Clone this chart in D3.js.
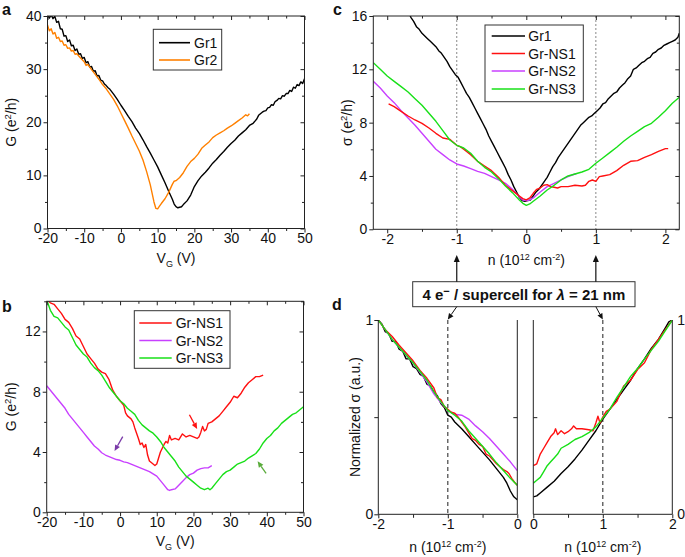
<!DOCTYPE html>
<html><head><meta charset="utf-8">
<script src="https://cdn.jsdelivr.net/npm/d3@7"></script>
<style>body{margin:0;background:#fff} svg text{font-family:Arial,"Liberation Sans",sans-serif}</style>
</head><body><svg id="fig" width="685" height="557"></svg>
<script>
// ---------------- DATA ----------------
// Panel a: G (e^2/h) vs V_G (V)
const aGr1 = [[-20,40.3],[-19.5,39.6],[-19,40.2],[-18.5,39.5],[-18,39.9],[-17.5,38.8],[-17,39.0],[-16.5,37.6],[-16,37.5],[-15.5,36.2],[-15,36.3],[-14.5,35.2],[-14,35.5],[-13.5,34.4],[-13,34.5],[-12.5,33.5],[-12,33.8],[-11.5,32.8],[-11,32.9],[-10.5,32.0],[-10,32.2],[-9.5,31.2],[-9,31.4],[-8.5,30.4],[-8,30.5],[-7.5,29.6],[-7,29.7],[-6.5,28.7],[-6,28.8],[-5.5,27.9],[-5,27.8],[-4.5,27.2],[-4,26.9],[-3.5,26.5],[-3,26.2],[-2,25.3],[-1,24.3],[0,23.2],[1,22.2],[2,21.1],[3,20.1],[4,18.9],[5,17.9],[6,16.7],[7,15.4],[8,14.2],[9,12.9],[10,11.6],[11,10.1],[12,8.6],[13,7.0],[14,5.5],[14.5,4.6],[15,4.1],[15.5,3.9],[16,4.0],[16.5,4.1],[17,4.5],[18,5.2],[19,6.3],[20,7.9],[21,9.0],[22,9.9],[23,10.6],[24,11.4],[25,12.3],[26,13.0],[27,13.8],[28,14.5],[29,15.3],[30,16.0],[31,16.6],[32,17.4],[33,18.0],[34,18.6],[35,19.4],[36,19.8],[37,20.6],[37.5,21.3],[38,21.6],[38.5,21.9],[39,22.1],[39.5,22.2],[40,22.7],[40.5,22.8],[41,23.3],[41.5,23.2],[42,23.9],[42.5,24.1],[43,24.5],[43.5,24.4],[44,25.0],[44.5,24.9],[45,25.4],[45.5,25.4],[46,26.0],[46.5,25.8],[47,26.6],[47.5,26.4],[48,27.1],[48.5,26.9],[49,27.6],[49.5,27.3],[50,28.2]];
const aGr2 = [[-20,38.3],[-19.5,37.2],[-19,37.6],[-18.5,36.6],[-18,36.9],[-17.5,35.8],[-17,36.0],[-16.5,35.2],[-16,35.3],[-15.5,34.5],[-15,34.6],[-14.5,33.9],[-14,34.0],[-13.5,33.4],[-13,33.5],[-12.5,32.8],[-12,32.9],[-11,32.1],[-10,31.4],[-9.5,30.7],[-9,30.9],[-8,29.9],[-7,29.0],[-6,28.1],[-5,27.1],[-4,26.3],[-3,25.3],[-2,24.3],[-1,23.1],[0,21.7],[1,20.3],[2,18.9],[3,17.4],[4,16.0],[5,14.6],[6,12.9],[7,10.7],[8,8.2],[8.5,6.6],[9,5.0],[9.5,3.8],[10,3.7],[10.5,4.2],[11,4.7],[12,5.6],[13,6.8],[14,8.3],[14.5,8.9],[15,9.0],[16,9.6],[17,10.5],[18,11.7],[19,12.6],[20,13.2],[21,14.0],[22,15.1],[23,15.7],[24,16.3],[25,17.1],[26,17.6],[27,18.0],[28,18.4],[29,18.9],[30,19.3],[31,19.8],[32,20.3],[33,20.8],[34,21.4],[34.5,21.2],[35,21.6]];

// Panel b
const bNS1 = [[-20,14.1],[-19,13.9],[-18,13.8],[-17,13.5],[-16,13.2],[-15,12.8],[-14,12.6],[-13,12.2],[-12,11.7],[-11,11.5],[-10,11.0],[-9,10.5],[-8,10.2],[-7,9.9],[-6,9.5],[-5,9.3],[-4,9.2],[-3,8.8],[-2,8.1],[-1,7.7],[0,7.4],[1,7.1],[1.5,6.6],[2,6.4],[3,6.2],[3.5,6.0],[4,5.6],[5,4.9],[5.5,4.5],[6,4.6],[6.5,4.3],[7,4.5],[7.5,3.8],[8,3.4],[9,3.2],[9.5,3.1],[10,3.2],[10.5,3.6],[11,4.0],[12,4.5],[12.5,4.7],[13,4.6],[13.5,5.1],[14,4.8],[15,4.9],[16,4.8],[17,5.2],[18,5.0],[19,5.1],[20,5.0],[21,4.9],[21.5,5.0],[22,5.3],[22.5,5.7],[23,5.4],[23.5,5.5],[24,5.9],[25,6.0],[26,6.2],[27,6.4],[28,6.7],[29,7.0],[30,7.3],[31,7.7],[32,7.6],[33,7.9],[34,8.3],[35,8.6],[36,8.8],[37,9.0],[38,9.0],[39,9.1]];
const bNS2 = [[-20,8.4],[-19,8.1],[-18,7.8],[-17,7.5],[-16,7.2],[-15,6.9],[-14,6.5],[-13,6.2],[-12,5.9],[-11,5.6],[-10,5.3],[-9,5.0],[-8,4.7],[-7,4.4],[-6,4.2],[-5,3.95],[-4,3.8],[-3,3.7],[-2,3.6],[-1,3.5],[0,3.45],[1,3.35],[2,3.3],[3,3.2],[4,3.1],[5,3.0],[6,2.9],[7,2.8],[8,2.7],[9,2.55],[10,2.4],[11,2.1],[12,1.8],[13,1.5],[13.5,1.45],[14,1.5],[15,1.55],[16,1.8],[17,2.05],[18,2.3],[19,2.5],[20,2.6],[21,2.8],[22,2.9],[23,2.95],[24,2.95],[25,3.1]];
const bNS3 = [[-20,14.1],[-19,13.4],[-18,13.0],[-17,12.9],[-16,12.6],[-15,12.3],[-14,12.1],[-13,11.6],[-12,11.1],[-11,10.8],[-10,10.5],[-9,10.3],[-8,9.9],[-7,9.6],[-6,9.4],[-5,9.1],[-4,8.7],[-3,8.3],[-2,8.0],[-1,7.7],[0,7.4],[1,7.2],[2,6.9],[3,6.7],[4,6.5],[5,6.1],[6,5.8],[7,5.6],[8,5.4],[9,5.25],[10,5.0],[11,4.7],[12,4.3],[13,4.0],[14,3.7],[15,3.4],[16,3.0],[17,2.7],[18,2.4],[19,2.2],[20,2.0],[21,1.8],[22,1.6],[23,1.5],[24,1.6],[24.5,1.5],[25,1.6],[26,1.9],[27,2.2],[28,2.5],[29,2.7],[30,2.8],[31,3.0],[32,3.2],[33,3.3],[34,3.4],[35,3.6],[36,3.75],[37,3.9],[38,4.2],[39,4.6],[40,4.9],[41,5.1],[42,5.4],[43,5.6],[44,5.9],[45,6.1],[46,6.3],[47,6.5],[48,6.6],[49,6.8],[50,7.0]];
// arrows in panel b (data coordinates: [V_G, G])
const bArrowFrom = [[18.9,6.47],[0.73,5.02],[39.8,2.59]];
const bArrowTo   = [[21.0,5.53],[-1.5,4.07],[37.5,3.38]];

// Panel c: sigma (e^2/h) vs n (1e12 cm^-2)
const cGr1 = [[-1.70,16.4],[-1.66,15.9],[-1.62,15.6],[-1.58,15.2],[-1.54,15.0],[-1.50,14.7],[-1.46,14.5],[-1.42,14.3],[-1.38,14.1],[-1.34,13.9],[-1.30,13.7],[-1.26,13.4],[-1.22,13.2],[-1.18,12.9],[-1.14,12.6],[-1.10,12.2],[-1.06,11.9],[-1.02,11.6],[-0.98,11.4],[-0.94,11.0],[-0.90,10.6],[-0.86,10.2],[-0.82,9.9],[-0.78,9.5],[-0.74,9.1],[-0.70,8.7],[-0.66,8.3],[-0.62,7.9],[-0.58,7.5],[-0.54,7.0],[-0.50,6.6],[-0.46,6.2],[-0.42,5.8],[-0.38,5.4],[-0.34,5.0],[-0.30,4.6],[-0.26,4.1],[-0.22,3.7],[-0.18,3.2],[-0.14,2.8],[-0.10,2.4],[-0.06,2.15],[-0.02,2.1],[0.02,2.15],[0.06,2.2],[0.10,2.5],[0.14,2.8],[0.18,3.0],[0.22,3.3],[0.26,3.6],[0.30,3.9],[0.34,4.3],[0.38,4.7],[0.42,5.0],[0.46,5.4],[0.50,5.7],[0.54,6.0],[0.58,6.3],[0.62,6.6],[0.66,6.9],[0.70,7.2],[0.74,7.5],[0.78,7.8],[0.82,8.0],[0.86,8.2],[0.90,8.4],[0.94,8.5],[0.98,8.7],[1.02,8.9],[1.06,9.1],[1.10,9.4],[1.14,9.5],[1.18,9.8],[1.22,10.0],[1.26,10.2],[1.30,10.3],[1.34,10.6],[1.38,10.8],[1.42,11.0],[1.46,11.3],[1.50,11.5],[1.54,12.0],[1.58,12.1],[1.62,12.3],[1.66,12.5],[1.70,12.6],[1.74,12.8],[1.78,12.9],[1.82,13.2],[1.86,13.3],[1.90,13.5],[1.94,13.6],[1.98,13.8],[2.02,13.9],[2.06,14.0],[2.10,14.1],[2.14,14.2],[2.18,14.4],[2.20,14.7]];
const cNS1 = [[-1.98,9.4],[-1.9,9.2],[-1.8,8.85],[-1.7,8.5],[-1.6,8.2],[-1.5,7.95],[-1.4,7.6],[-1.3,7.2],[-1.2,6.85],[-1.1,6.75],[-1.0,6.3],[-0.95,6.2],[-0.9,6.0],[-0.8,5.6],[-0.7,5.1],[-0.6,4.75],[-0.5,4.4],[-0.4,3.9],[-0.3,3.3],[-0.2,2.9],[-0.1,2.5],[-0.05,2.3],[0,2.2],[0.05,2.35],[0.1,2.7],[0.15,3.0],[0.2,3.1],[0.25,3.3],[0.3,3.35],[0.35,3.2],[0.4,3.15],[0.45,3.1],[0.5,3.2],[0.6,3.2],[0.7,3.3],[0.8,3.25],[0.85,3.3],[0.9,3.6],[0.95,3.7],[1.0,3.6],[1.05,3.95],[1.1,4.0],[1.2,4.1],[1.3,4.4],[1.4,4.8],[1.5,5.1],[1.6,5.15],[1.7,5.4],[1.8,5.6],[1.9,5.85],[2.0,6.05],[2.04,6.05]];
const cNS2 = [[-2.2,11.1],[-2.1,10.6],[-2.0,10.0],[-1.9,9.5],[-1.8,8.9],[-1.7,8.35],[-1.6,7.8],[-1.5,7.2],[-1.4,6.6],[-1.3,6.0],[-1.2,5.6],[-1.1,5.2],[-1.0,4.9],[-0.9,4.75],[-0.8,4.55],[-0.7,4.35],[-0.6,4.2],[-0.5,3.95],[-0.4,3.7],[-0.3,3.45],[-0.2,3.0],[-0.1,2.45],[-0.05,2.2],[0,2.15],[0.05,2.2],[0.1,2.35],[0.2,2.8],[0.3,3.2],[0.4,3.45],[0.5,3.7],[0.6,3.95],[0.7,4.15],[0.72,4.15]];
const cNS3 = [[-2.2,12.5],[-2.1,12.0],[-2.0,11.5],[-1.9,11.1],[-1.8,10.7],[-1.7,10.3],[-1.6,9.8],[-1.5,9.3],[-1.4,8.7],[-1.3,8.1],[-1.2,7.4],[-1.1,6.7],[-1.0,6.3],[-0.9,6.1],[-0.8,5.7],[-0.7,5.1],[-0.6,4.65],[-0.5,4.3],[-0.4,3.8],[-0.3,3.25],[-0.2,2.75],[-0.1,2.2],[-0.05,1.95],[0,1.8],[0.05,1.9],[0.1,2.1],[0.2,2.5],[0.3,2.95],[0.4,3.3],[0.5,3.7],[0.6,4.0],[0.7,4.15],[0.8,4.3],[0.9,4.5],[1.0,4.95],[1.1,5.35],[1.2,5.75],[1.3,6.15],[1.4,6.6],[1.5,7.0],[1.6,7.35],[1.7,7.7],[1.8,7.95],[1.9,8.4],[2.0,8.9],[2.1,9.45],[2.2,9.9]];

// Panel d: normalized sigma
const dLGr1 = [[-2,1.0],[-1.95,0.98],[-1.9,0.94],[-1.85,0.93],[-1.8,0.89],[-1.75,0.89],[-1.7,0.85],[-1.65,0.84],[-1.6,0.80],[-1.55,0.80],[-1.5,0.76],[-1.45,0.75],[-1.4,0.72],[-1.35,0.71],[-1.3,0.67],[-1.25,0.66],[-1.2,0.63],[-1.15,0.61],[-1.1,0.57],[-1.05,0.55],[-1.0,0.51],[-0.95,0.50],[-0.9,0.475],[-0.8,0.44],[-0.7,0.40],[-0.6,0.36],[-0.5,0.32],[-0.4,0.28],[-0.3,0.235],[-0.2,0.19],[-0.15,0.16],[-0.1,0.12],[-0.05,0.09],[0,0.075]];
const dLNS1 = [[-2,1],[-1.9,0.95],[-1.8,0.915],[-1.7,0.87],[-1.6,0.83],[-1.5,0.79],[-1.4,0.74],[-1.3,0.70],[-1.2,0.65],[-1.15,0.60],[-1.1,0.59],[-1.05,0.555],[-1.0,0.54],[-0.95,0.525],[-0.9,0.52],[-0.85,0.50],[-0.8,0.475],[-0.75,0.45],[-0.7,0.42],[-0.65,0.39],[-0.6,0.38],[-0.55,0.36],[-0.5,0.35],[-0.45,0.31],[-0.4,0.30],[-0.35,0.28],[-0.3,0.26],[-0.25,0.245],[-0.2,0.23],[-0.15,0.22],[-0.12,0.21],[-0.08,0.185],[-0.04,0.165],[0,0.15]];
const dLNS2 = [[-2,1],[-1.9,0.95],[-1.8,0.90],[-1.7,0.86],[-1.6,0.82],[-1.5,0.78],[-1.4,0.73],[-1.3,0.68],[-1.2,0.62],[-1.1,0.575],[-1.0,0.535],[-0.9,0.515],[-0.8,0.51],[-0.7,0.49],[-0.6,0.455],[-0.5,0.425],[-0.4,0.39],[-0.3,0.35],[-0.2,0.31],[-0.1,0.27],[0,0.225]];
const dLNS3 = [[-2,1],[-1.9,0.95],[-1.8,0.90],[-1.7,0.86],[-1.6,0.82],[-1.5,0.78],[-1.4,0.735],[-1.3,0.69],[-1.2,0.63],[-1.1,0.58],[-1.0,0.535],[-0.9,0.51],[-0.8,0.48],[-0.7,0.43],[-0.6,0.39],[-0.5,0.35],[-0.4,0.31],[-0.3,0.265],[-0.2,0.225],[-0.1,0.185],[0,0.15]];
const dRGr1 = [[0,0.09],[0.05,0.095],[0.1,0.11],[0.2,0.14],[0.3,0.17],[0.4,0.21],[0.5,0.245],[0.6,0.285],[0.7,0.33],[0.8,0.38],[0.9,0.43],[1.0,0.49],[1.1,0.54],[1.2,0.59],[1.3,0.64],[1.4,0.69],[1.5,0.75],[1.6,0.80],[1.7,0.855],[1.8,0.90],[1.9,0.96],[1.95,0.99],[2,1]];
const dRNS1 = [[0,0.25],[0.05,0.26],[0.1,0.31],[0.15,0.34],[0.2,0.37],[0.25,0.40],[0.3,0.42],[0.32,0.44],[0.35,0.41],[0.4,0.43],[0.45,0.415],[0.5,0.425],[0.55,0.44],[0.58,0.455],[0.62,0.44],[0.7,0.44],[0.8,0.435],[0.86,0.43],[0.9,0.47],[0.93,0.505],[0.96,0.47],[1.0,0.50],[1.05,0.53],[1.1,0.54],[1.2,0.58],[1.3,0.66],[1.4,0.69],[1.5,0.745],[1.6,0.78],[1.7,0.85],[1.8,0.90],[1.9,0.95],[2,1]];
const dRNS3 = [[0,0.16],[0.05,0.175],[0.1,0.19],[0.15,0.22],[0.2,0.25],[0.25,0.27],[0.3,0.29],[0.35,0.31],[0.4,0.34],[0.5,0.36],[0.6,0.385],[0.7,0.40],[0.8,0.42],[0.9,0.45],[1.0,0.495],[1.1,0.54],[1.2,0.60],[1.3,0.655],[1.4,0.71],[1.5,0.75],[1.6,0.80],[1.7,0.845],[1.8,0.89],[1.9,0.945],[2,1]];

// tick values
const vgMajor = [-20,-10,0,10,20,30,40,50];
const vgMinor = [-15,-5,5,15,25,35,45];
const aYMajor = [0,10,20,30,40];
const aYMinor = [5,15,25,35];
const bYMajor = [0,4,8,12];
const bYMinor = [2,6,10,14];
const cXMajor = [-2,-1,0,1,2];
const cXMinor = [-1.5,-0.5,0.5,1.5];
const cYMajor = [0,4,8,12,16];
const cYMinor = [2,6,10,14];
const dLXMajor = [-2,-1,0], dLXMinor = [-1.5,-0.5];
const dRXMajor = [0,1,2], dRXMinor = [0.5,1.5];
const dYMajor = [0,1], dYMinor = [0.5];
const cMarks = [-1,1];   // dashed lines, n = ±1

// ---------------- STYLE / LAYOUT ----------------
const COL = {gr1:'#000000', gr2:'#ff8000', ns1:'#ff1010', ns2:'#c840ff', ns3:'#18e018'};
const bArrowCol = ['#ff1010','#7a3aa8','#5aac3c'];
const FONT = 'Arial, "Liberation Sans", sans-serif';
const FR = '#222';
const svg = d3.select('#fig');
const defs = svg.append('defs');

const PA = {l:47.5, r:304.5, t:16, b:228.5};
const PB = {l:46.7, r:303.5, t:301.3, b:512.3};
const PC = {l:373.3, r:679.3, t:16, b:229.3};
const PDL = {l:378.3, r:517.3, t:320, b:514.3};
const PDR = {l:533.3, r:672.3, t:320, b:514.3};

const fmt = d => String(d);
function styleAx(s){
  s.attr('font-size',14).attr('font-family',FONT);
  s.select('.domain').remove();
  s.selectAll('line').attr('stroke',FR).attr('stroke-width',1);
  s.selectAll('text').attr('fill','#111');
}
function clip(id,p){
  defs.append('clipPath').attr('id',id).append('rect')
    .attr('x',p.l).attr('y',p.t).attr('width',p.r-p.l).attr('height',p.b-p.t);
}
// axes with outward main ticks and inward mirrored ticks
function axes(p,x,y,o){
  const g = svg.append('g');
  g.append('g').attr('transform',`translate(0,${p.b})`)
    .call(d3.axisBottom(x).tickValues(o.xMaj).tickSize(4).tickSizeOuter(0).tickPadding(1).tickFormat(fmt)).call(styleAx);
  g.append('g').attr('transform',`translate(0,${p.b})`)
    .call(d3.axisBottom(x).tickValues(o.xMin).tickSize(o.minLen||2.5).tickSizeOuter(0).tickFormat('')).call(styleAx);
  g.append('g').attr('transform',`translate(${p.l},0)`)
    .call(d3.axisLeft(y).tickValues(o.yMaj).tickSize(4).tickSizeOuter(0).tickPadding(2).tickFormat(fmt)).call(styleAx);
  g.append('g').attr('transform',`translate(${p.l},0)`)
    .call(d3.axisLeft(y).tickValues(o.yMin).tickSize(2.5).tickSizeOuter(0).tickFormat('')).call(styleAx);
  if(o.mirror){
    g.append('g').attr('transform',`translate(0,${p.t})`)
      .call(d3.axisTop(x).tickValues(o.xMaj).tickSize(-4).tickSizeOuter(0).tickFormat('')).call(styleAx);
    g.append('g').attr('transform',`translate(0,${p.t})`)
      .call(d3.axisTop(x).tickValues(o.xMin).tickSize(-2.5).tickSizeOuter(0).tickFormat('')).call(styleAx);
    g.append('g').attr('transform',`translate(${p.r},0)`)
      .call(d3.axisRight(y).tickValues(o.yMaj).tickSize(-4).tickSizeOuter(0).tickFormat('')).call(styleAx);
    g.append('g').attr('transform',`translate(${p.r},0)`)
      .call(d3.axisRight(y).tickValues(o.yMin).tickSize(-2.5).tickSizeOuter(0).tickFormat('')).call(styleAx);
    g.append('rect').attr('x',p.l).attr('y',p.t).attr('width',p.r-p.l).attr('height',p.b-p.t)
      .attr('fill','none').attr('stroke',FR).attr('stroke-width',1);
  }
  return g;
}
function rich(sel,parts){
  let cur=0;
  parts.forEach(pp=>{
    const target = pp.sup ? -5 : (pp.sub ? 4 : 0);
    const ts = sel.append('tspan').text(pp.t);
    if(target-cur!==0) ts.attr('dy',target-cur);
    if(pp.sup||pp.sub) ts.attr('font-size',pp.fs||9.5);
    if(pp.it) ts.attr('font-style','italic');
    cur=target;
  });
  return sel;
}
function label(x,y,parts,opt={}){
  const t = svg.append('text').attr('x',0).attr('y',0)
    .attr('font-size',opt.fs||14).attr('font-family',FONT).attr('fill','#111')
    .attr('text-anchor',opt.anchor||'middle')
    .attr('transform',`translate(${x},${y})`+(opt.rot?` rotate(${opt.rot})`:''));
  if(opt.bold) t.attr('font-weight','bold');
  return rich(t,parts);
}
function series(id,x,y,data,color,w){
  svg.append('path').datum(data).attr('clip-path',`url(#${id})`)
    .attr('d',d3.line().x(d=>x(d[0])).y(d=>y(d[1])))
    .attr('fill','none').attr('stroke',color).attr('stroke-width',w||1.4).attr('stroke-linejoin','round');
}
function arrow(x1,y1,x2,y2,color,hl,hw,sw){
  const a=Math.atan2(y2-y1,x2-x1);
  const bx=x2-hl*Math.cos(a), by=y2-hl*Math.sin(a);
  svg.append('line').attr('x1',x1).attr('y1',y1).attr('x2',bx).attr('y2',by)
    .attr('stroke',color).attr('stroke-width',sw);
  const px=-Math.sin(a)*hw/2, py=Math.cos(a)*hw/2;
  svg.append('path').attr('d',`M${x2},${y2}L${bx+px},${by+py}L${bx-px},${by-py}Z`).attr('fill',color);
}
function legend(box,entries,lx1,lx2,tx,ys){
  svg.append('rect').attr('x',box[0]).attr('y',box[1]).attr('width',box[2]-box[0]).attr('height',box[3]-box[1])
    .attr('fill','#fff').attr('stroke','#333').attr('stroke-width',1);
  entries.forEach((e,i)=>{
    svg.append('line').attr('x1',lx1).attr('x2',lx2).attr('y1',ys[i]).attr('y2',ys[i])
      .attr('stroke',e[1]).attr('stroke-width',1.6);
    svg.append('text').attr('x',tx).attr('y',ys[i]+5).attr('font-size',14).attr('font-family',FONT)
      .attr('fill','#111').text(e[0]);
  });
}
function panelLetter(x,y,t){
  svg.append('text').attr('x',x).attr('y',y).attr('font-size',16).attr('font-weight','bold')
    .attr('font-family',FONT).attr('fill','#111').text(t);
}

// ---------------- PANEL a ----------------
const xa = d3.scaleLinear().domain([-20,50]).range([PA.l,PA.r]);
const ya = d3.scaleLinear().domain([0,40]).range([PA.b,PA.t]);
clip('ca',PA);
series('ca',xa,ya,aGr1,COL.gr1);
series('ca',xa,ya,aGr2,COL.gr2);
axes(PA,xa,ya,{xMaj:vgMajor,xMin:vgMinor,yMaj:aYMajor,yMin:aYMinor,mirror:true});
legend([153.3,29.3,221.7,70],[['Gr1',COL.gr1],['Gr2',COL.gr2]],159,190,194,[42.7,60]);
label(15.5,(PA.t+PA.b)/2,[{t:'G (e'},{t:'2',sup:true},{t:'/h)'}],{rot:-90});
label((PA.l+PA.r)/2,263,[{t:'V'},{t:'G',sub:true,fs:9},{t:' (V)'}]);
panelLetter(2,15,'a');

// ---------------- PANEL b ----------------
const xb = d3.scaleLinear().domain([-20,50]).range([PB.l,PB.r]);
const yb = d3.scaleLinear().domain([0,14]).range([PB.b,PB.t]);
clip('cb',PB);
series('cb',xb,yb,bNS1,COL.ns1);
series('cb',xb,yb,bNS2,COL.ns2);
series('cb',xb,yb,bNS3,COL.ns3);
axes(PB,xb,yb,{xMaj:vgMajor,xMin:vgMinor,yMaj:bYMajor,yMin:bYMinor,mirror:true});
bArrowFrom.forEach((f,i)=>{
  const t = bArrowTo[i];
  arrow(xb(f[0]),yb(f[1]),xb(t[0]),yb(t[1]),bArrowCol[i],6,5.5,1.3);
});
legend([134.3,310.7,230,368.3],[['Gr-NS1',COL.ns1],['Gr-NS2',COL.ns2],['Gr-NS3',COL.ns3]],139.3,171.7,175.7,[323,340.5,358]);
label(15.5,(PB.t+PB.b)/2,[{t:'G (e'},{t:'2',sup:true},{t:'/h)'}],{rot:-90});
label((PB.l+PB.r)/2,546,[{t:'V'},{t:'G',sub:true,fs:9},{t:' (V)'}]);
panelLetter(2,312,'b');

// ---------------- PANEL c ----------------
const xc = d3.scaleLinear().domain([-2.2,2.2]).range([PC.l,PC.r]);
const yc = d3.scaleLinear().domain([0,16]).range([PC.b,PC.t]);
clip('cc',PC);
cMarks.forEach(m=>{
  svg.append('line').attr('x1',xc(m)).attr('x2',xc(m)).attr('y1',PC.t).attr('y2',PC.b)
    .attr('stroke','#888').attr('stroke-width',1).attr('stroke-dasharray','2,2');
});
series('cc',xc,yc,cGr1,COL.gr1);
series('cc',xc,yc,cNS2,COL.ns2);
series('cc',xc,yc,cNS1,COL.ns1);
series('cc',xc,yc,cNS3,COL.ns3);
axes(PC,xc,yc,{xMaj:cXMajor,xMin:cXMinor,yMaj:cYMajor,yMin:cYMinor,mirror:true});
legend([485,25,583.3,101.7],[['Gr1',COL.gr1],['Gr-NS1',COL.ns1],['Gr-NS2',COL.ns2],['Gr-NS3',COL.ns3]],491.7,525,528.3,[36,53.5,71,89]);
label(352,(PC.t+PC.b)/2,[{t:'σ (e'},{t:'2',sup:true},{t:'/h)'}],{rot:-90});
label(xc(0),265,[{t:'n (10'},{t:'12',sup:true,fs:9},{t:' cm'},{t:'-2',sup:true,fs:9},{t:')'}]);
panelLetter(333,15,'c');

// ---------------- PANEL d ----------------
const xdl = d3.scaleLinear().domain([-2,0]).range([PDL.l,PDL.r]);
const xdr = d3.scaleLinear().domain([0,2]).range([PDR.l,PDR.r]);
const yd = d3.scaleLinear().domain([0,1]).range([PDL.b,PDL.t]);
clip('cdl',PDL); clip('cdr',PDR);
svg.append('line').attr('x1',xdl(-1)).attr('x2',xdl(-1)).attr('y1',PDL.t).attr('y2',PDL.b)
  .attr('stroke','#444').attr('stroke-width',1.2).attr('stroke-dasharray','4,3');
svg.append('line').attr('x1',xdr(1)).attr('x2',xdr(1)).attr('y1',PDR.t).attr('y2',PDR.b)
  .attr('stroke','#444').attr('stroke-width',1.2).attr('stroke-dasharray','4,3');
series('cdl',xdl,yd,dLGr1,COL.gr1);
series('cdl',xdl,yd,dLNS2,COL.ns2);
series('cdl',xdl,yd,dLNS1,COL.ns1);
series('cdl',xdl,yd,dLNS3,COL.ns3);
series('cdr',xdr,yd,dRGr1,COL.gr1);
series('cdr',xdr,yd,dRNS1,COL.ns1);
series('cdr',xdr,yd,dRNS3,COL.ns3);
function dFrame(p,x,xMaj,xMin,leftLabels,rightLabels){
  const g = svg.append('g');
  g.append('g').attr('transform',`translate(0,${p.b})`)
    .call(d3.axisBottom(x).tickValues(xMaj).tickSize(4).tickSizeOuter(0).tickPadding(1).tickFormat(fmt)).call(styleAx);
  g.append('g').attr('transform',`translate(0,${p.b})`)
    .call(d3.axisBottom(x).tickValues(xMin).tickSize(3.5).tickSizeOuter(0).tickFormat('')).call(styleAx);
  if(leftLabels){
    g.append('g').attr('transform',`translate(${p.l},0)`)
      .call(d3.axisLeft(yd).tickValues(dYMajor).tickSize(4).tickSizeOuter(0).tickPadding(1).tickFormat(fmt)).call(styleAx);
    g.append('g').attr('transform',`translate(${p.l},0)`)
      .call(d3.axisLeft(yd).tickValues(dYMinor).tickSize(4).tickSizeOuter(0).tickFormat('')).call(styleAx);
  } else {
    g.append('g').attr('transform',`translate(${p.l},0)`)
      .call(d3.axisLeft(yd).tickValues(dYMinor).tickSize(-4).tickSizeOuter(0).tickFormat('')).call(styleAx);
  }
  g.append('g').attr('transform',`translate(${p.r},0)`)
    .call(d3.axisRight(yd).tickValues(dYMinor).tickSize(-4).tickSizeOuter(0).tickFormat('')).call(styleAx);
  if(rightLabels){
    g.append('g').attr('transform',`translate(${p.r},0)`)
      .call(d3.axisRight(yd).tickValues(dYMajor).tickSize(0).tickPadding(5).tickFormat(fmt)).call(styleAx);
  }
  g.append('path').attr('d',`M${p.l},${p.t}V${p.b}H${p.r}V${p.t}`)
    .attr('fill','none').attr('stroke',FR).attr('stroke-width',1);
}
dFrame(PDL,xdl,dLXMajor,dLXMinor,true,false);
dFrame(PDR,xdr,dRXMajor,dRXMinor,false,true);
label(360,(PDL.t+PDL.b)/2,[{t:'Normalized σ (a.u.)'}],{rot:-90});
label(xdl(-1),552,[{t:'n (10'},{t:'12',sup:true,fs:9},{t:' cm'},{t:'-2',sup:true,fs:9},{t:')'}]);
label(xdr(1),552,[{t:'n (10'},{t:'12',sup:true,fs:9},{t:' cm'},{t:'-2',sup:true,fs:9},{t:')'}]);
panelLetter(332,310,'d');

// ---------------- annotation box & arrows ----------------
const BOX = {l:412.7, t:281.7, r:635, b:306.7};
svg.append('rect').attr('x',BOX.l).attr('y',BOX.t).attr('width',BOX.r-BOX.l).attr('height',BOX.b-BOX.t)
  .attr('fill','#fff').attr('stroke','#333').attr('stroke-width',1);
label((BOX.l+BOX.r)/2,300,[{t:'4 e'},{t:'−',sup:true,fs:11},{t:' / supercell for '},{t:'λ',it:true},{t:' = 21 nm'}],{bold:true,fs:15});
cMarks.forEach(m=>{ arrow(xc(m),BOX.t,xc(m),255,'#111',7,6,1.2); });
arrow(xc(-1),BOX.b,xdl(-1),PDL.t-0.5,'#111',6,5.5,1);
arrow(xc(1),BOX.b,xdr(1),PDR.t-0.5,'#111',6,5.5,1);
</script>
</body></html>
